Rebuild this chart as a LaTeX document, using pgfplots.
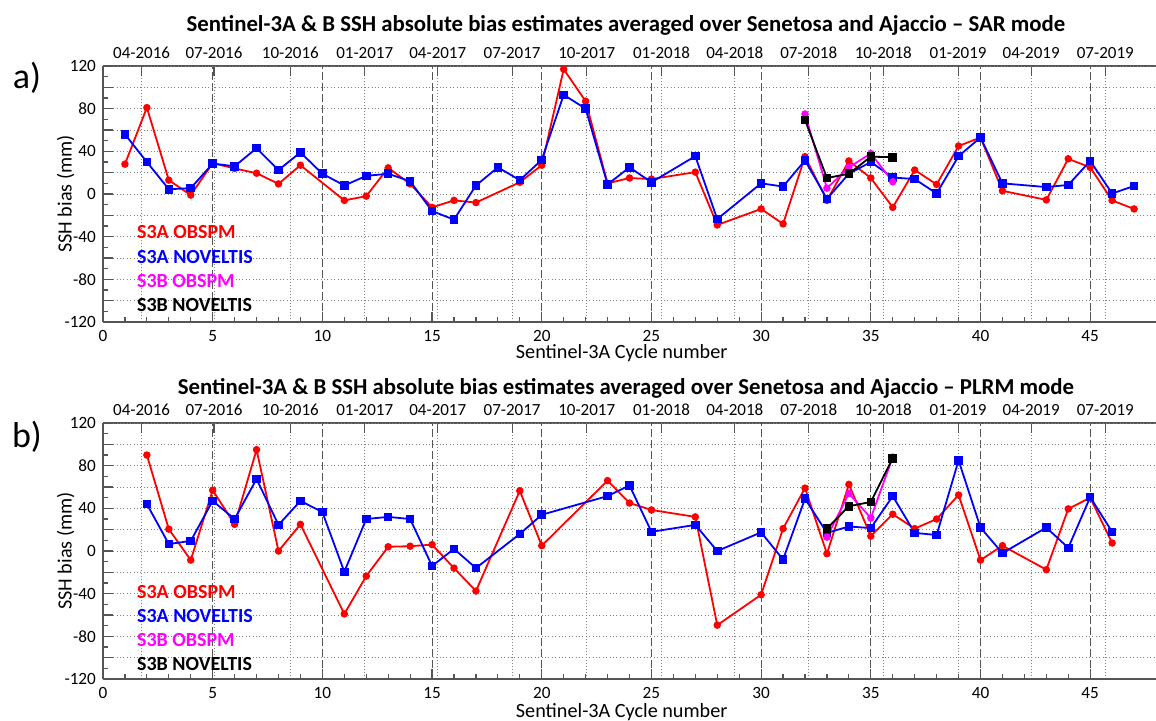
\documentclass[border=0pt]{standalone}
\usepackage{fontspec}
\setmainfont{Carlito}
\usepackage{pgfplots}
\pgfplotsset{compat=1.18}

\definecolor{axgray}{RGB}{85,85,85}
\definecolor{s3ared}{RGB}{255,0,0}
\definecolor{s3ablue}{RGB}{0,0,255}
\definecolor{s3bmag}{RGB}{255,0,255}

\pgfplotsset{
  common/.style={
    scale only axis, width=526.5pt, height=128pt,
    xmin=0, xmax=48, ymin=-120, ymax=120,
    axis line style={axgray, line width=0.6pt},
    tick align=inside,
    tick style={axgray, line width=0.6pt},
    major tick length=5pt, minor tick length=2.5pt,
    /pgf/number format/assume math mode=true,
  },
  panel/.style={
    common,
    axis x line*=bottom, axis y line*=left,
    xtick={0,5,...,45}, minor x tick num=4,
    ytick={-120,-100,...,120},
    yticklabels={-120,,-80,,-40,,0,,40,,80,,120},
    minor y tick num=1,
    tick label style={font=\fontsize{8.6}{9}\selectfont},
    xticklabel style={anchor=center, yshift=-7pt},
    xmajorgrids, ymajorgrids,
    x grid style={dash pattern=on 4pt off 1.5pt, color=axgray, line width=0.5pt},
    y grid style={dash pattern=on 0.5pt off 1.2pt, color=gray, line width=0.5pt},
    xlabel={Sentinel-3A Cycle number},
    ylabel={SSH bias (mm)},
    label style={font=\fontsize{10.1}{11}\selectfont},
    xlabel style={at={(axis description cs:0.4926,-0.123)}, anchor=center},
    ylabel style={at={(axis description cs:-0.0356,0.5)}, anchor=center},
  },
  months/.style={
    common,
    axis x line*=top, axis y line=none,
    xtick={1.76,5.06,8.54,11.93,15.26,18.65,22.05,25.46,28.8,32.17,35.57,38.98,42.31,45.69},
    xticklabels={04-2016,07-2016,10-2016,01-2017,04-2017,07-2017,10-2017,01-2018,04-2018,07-2018,10-2018,01-2019,04-2019,07-2019},
    xticklabel style={font=\fontsize{8.5}{9}\selectfont},
    ytick=\empty,
    xmajorgrids,
    grid style={dash pattern=on 0.5pt off 1pt, color=gray, line width=0.5pt},
  },
  sred/.style={color=s3ared, line width=0.9pt, mark=*, mark size=1.4pt, mark options={solid}},
  sblue/.style={color=s3ablue, line width=0.9pt, mark=square*, mark size=1.7pt, mark options={solid}},
  smag/.style={color=s3bmag, line width=0.9pt, mark=*, mark size=1.4pt, mark options={solid}},
  sblack/.style={color=black, line width=0.9pt, mark=square*, mark size=1.7pt, mark options={solid}},
}

\begin{document}
\begin{tikzpicture}
\path[use as bounding box] (0,0) rectangle (578pt,-360pt);

% ---------- a) SAR mode ----------
\node[font=\bfseries\fontsize{11.4}{13}\selectfont] at (313pt,-12.5pt)
  {Sentinel-3A \& B SSH absolute bias estimates averaged over Senetosa and Ajaccio -- SAR mode};
\node[font=\fontsize{18}{20}\selectfont] at (13.5pt,-39pt) {a)};

\begin{axis}[months, at={(51.5pt,-161pt)}, anchor=south west]
\end{axis}
\begin{axis}[panel, at={(51.5pt,-161pt)}, anchor=south west]
\addplot[sred] coordinates {
 (1,28)(2,81)(3,13)(4,-1)(5,29)(6,24)(7,19.5)(8,9.5)(9,27)(11,-6)(12,-2)(13,24.5)
 (14,9.5)(15,-12.5)(16,-6)(17,-8)(19,11)(20,27)(21,117)(22,87)(23,10)(24,15)(25,14)
 (27,20.5)(28,-29)(30,-14)(31,-28)(32,35)(33,-6)(34,31)(35,15)(36,-12.5)(37,22.5)
 (38,9)(39,45)(40,53)(41,3)(43,-5.5)(44,33)(45,25)(46,-6)(47,-14)
};
\addplot[sblue] coordinates {
 (1,56)(2,30)(3,4.5)(4,5.5)(5,28.5)(6,26)(7,43)(8,22.5)(9,39)(10,19)(11,8)(12,17)
 (13,19)(14,12)(15,-16)(16,-24)(17,8)(18,25)(19,13)(20,32)(21,93)(22,80)(23,9)
 (24,25)(25,11)(27,35.5)(28,-23.5)(30,10)(31,7)(32,31.5)(33,-4.5)(34,19)(35,30)
 (36,15.5)(37,14)(38,0.5)(39,35.5)(40,53)(41,10)(43,6.5)(44,8.5)(45,31)(46,0.5)(47,7.5)
};
\addplot[smag] coordinates {(32,75)(33,5.5)(34,25)(35,38)(36,11.5)};
\addplot[sblack] coordinates {(32,69.5)(33,15)(34,19)(35,35)(36,34.5)};
\end{axis}

\begin{scope}[font=\bfseries\fontsize{10}{11}\selectfont]
\node[anchor=west, text=s3ared]  at (65pt,-116.2pt) {S3A OBSPM};
\node[anchor=west, text=s3ablue] at (65pt,-128.4pt) {S3A NOVELTIS};
\node[anchor=west, text=s3bmag]  at (65pt,-140.6pt) {S3B OBSPM};
\node[anchor=west, text=black]   at (65pt,-152.6pt) {S3B NOVELTIS};
\end{scope}

% ---------- b) PLRM mode ----------
\node[font=\bfseries\fontsize{11.4}{13}\selectfont] at (313pt,-194pt)
  {Sentinel-3A \& B SSH absolute bias estimates averaged over Senetosa and Ajaccio -- PLRM mode};
\node[font=\fontsize{18}{20}\selectfont] at (13.5pt,-218.5pt) {b)};

\begin{axis}[months, at={(51.5pt,-339.5pt)}, anchor=south west]
\end{axis}
\begin{axis}[panel, at={(51.5pt,-339.5pt)}, anchor=south west,
  xlabel style={at={(axis description cs:0.4926,-0.13)}}]
\addplot[sred] coordinates {
 (2,90)(3,20.5)(4,-8.5)(5,57)(6,25)(7,95)(8,0)(9,25)(11,-59)(12,-23.5)(13,4)(14,4.5)
 (15,6)(16,-16)(17,-37.5)(19,56.5)(20,5)(23,66)(24,45)(25,38.5)(27,32)(28,-69.5)
 (30,-41)(31,21)(32,59)(33,-2.5)(34,62.5)(35,14)(36,34.5)(37,21)(38,30)(39,52.5)
 (40,-8.5)(41,5)(43,-17.5)(44,39.5)(45,50)(46,7.5)
};
\addplot[sblue] coordinates {
 (2,44)(3,6.5)(4,9.5)(5,47)(6,30)(7,67.5)(8,24.5)(9,47)(10,36.5)(11,-19.5)(12,30)
 (13,32)(14,30)(15,-14)(16,2)(17,-16)(19,16)(20,34)(23,51.5)(24,61.5)(25,18)(27,24.5)
 (28,0)(30,17.5)(31,-8)(32,49)(33,17)(34,23)(35,21.5)(36,51.5)(37,17)(38,15)(39,85)
 (40,22)(41,-2)(43,22)(44,3)(45,50.5)(46,18)
};
\addplot[smag] coordinates {(33,13)(34,54)(35,31)(36,88)};
\addplot[sblack] coordinates {(33,21)(34,42)(35,46)(36,87)};
\end{axis}

\begin{scope}[font=\bfseries\fontsize{10}{11}\selectfont]
\node[anchor=west, text=s3ared]  at (65pt,-295.8pt) {S3A OBSPM};
\node[anchor=west, text=s3ablue] at (65pt,-307.8pt) {S3A NOVELTIS};
\node[anchor=west, text=s3bmag]  at (65pt,-319.9pt) {S3B OBSPM};
\node[anchor=west, text=black]   at (65pt,-331.9pt) {S3B NOVELTIS};
\end{scope}
\end{tikzpicture}
\end{document}
